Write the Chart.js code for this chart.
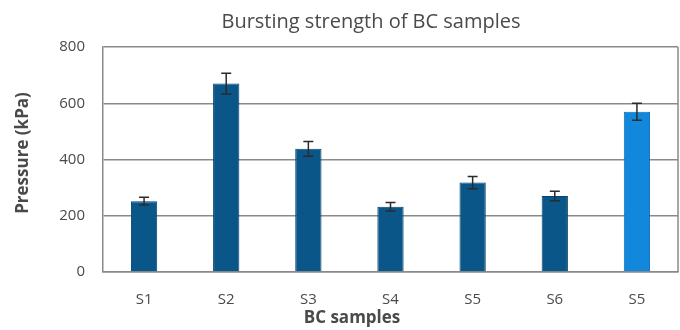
<!DOCTYPE html>
<html>
<head>
<meta charset="utf-8">
<script src="https://cdn.jsdelivr.net/npm/chart.js@4.4.1/dist/chart.umd.min.js"></script>
<style>
  html, body { margin: 0; padding: 0; background: #fff; }
  #wrap { width: 680px; height: 330px; }
</style>
</head>
<body>
<div id="wrap"><canvas id="chartBurst" width="680" height="330"></canvas></div>
<script>
const muestras = ['S1', 'S2', 'S3', 'S4', 'S5', 'S6', 'S5'];
const presion = [252, 670, 438, 232, 318, 270, 570];
const errores = [14, 37, 26, 15, 22, 17, 30];
const yTicks = [0, 200, 400, 600, 800];

const colorOscuro = '#0b5688';
const colorClaro = '#1288dc';
const colores = muestras.map((m, i) => i === muestras.length - 1 ? colorClaro : colorOscuro);
const bordes = muestras.map((m, i) => i === muestras.length - 1 ? '#0a6cb4' : '#074470');

const fuente = "'Open Sans', 'DejaVu Sans', sans-serif";
const gris = '#4a4a4a';

// error bars and titles drawn on top of the bars
const extras = {
    id: 'extras',
    afterDatasetsDraw(chart) {
        const { ctx, chartArea, scales } = chart;
        const meta = chart.getDatasetMeta(0);
        ctx.save();
        ctx.strokeStyle = '#2b2b2b';
        ctx.lineWidth = 1.5;
        meta.data.forEach((bar, i) => {
            const yTop = scales.y.getPixelForValue(presion[i] + errores[i]);
            const yBot = scales.y.getPixelForValue(presion[i] - errores[i]);
            ctx.beginPath();
            ctx.moveTo(bar.x, yTop);
            ctx.lineTo(bar.x, yBot);
            ctx.moveTo(bar.x - 5, yTop);
            ctx.lineTo(bar.x + 5, yTop);
            ctx.moveTo(bar.x - 5, yBot);
            ctx.lineTo(bar.x + 5, yBot);
            ctx.stroke();
        });

        // right edge of the plot frame
        ctx.strokeStyle = '#8a8a8a';
        ctx.lineWidth = 1.5;
        ctx.beginPath();
        ctx.moveTo(chartArea.right, chartArea.top);
        ctx.lineTo(chartArea.right, chartArea.bottom);
        ctx.stroke();

        ctx.fillStyle = gris;
        ctx.textAlign = 'center';
        ctx.textBaseline = 'middle';
        ctx.font = `20px ${fuente}`;
        ctx.fillText('Bursting strength of BC samples', 371, 22);

        ctx.font = `bold 17px ${fuente}`;
        ctx.fillText('BC samples', 352, 318);

        ctx.translate(23, 153);
        ctx.rotate(-Math.PI / 2);
        ctx.fillText('Pressure (kPa)', 0, 0);
        ctx.restore();
    }
};

const data = {
    labels: muestras,
    datasets: [{
        label: 'Pressure',
        data: presion,
        backgroundColor: colores,
        borderColor: bordes,
        borderWidth: 1,
        barPercentage: 0.32,
        categoryPercentage: 1
    }]
};

new Chart(document.getElementById('chartBurst'), {
    type: 'bar',
    data: data,
    plugins: [extras],
    options: {
        responsive: false,
        animation: false,
        layout: { padding: { top: 47, right: 2, left: 0, bottom: 0 } },
        plugins: {
            legend: { display: false },
            tooltip: { enabled: false }
        },
        scales: {
            x: {
                afterFit: s => { s.height = 58; },
                grid: { display: false, drawTicks: false },
                border: { display: true, color: '#8a8a8a', width: 1.5 },
                ticks: { padding: 19, color: gris, font: { family: fuente, size: 15 } }
            },
            y: {
                min: 0,
                max: 800,
                afterFit: s => { s.width = 103; },
                afterBuildTicks: s => { s.ticks = yTicks.map(v => ({ value: v })); },
                grid: { color: '#8a8a8a', lineWidth: 1.5, drawTicks: false },
                border: { display: true, color: '#8a8a8a', width: 1.5 },
                ticks: { padding: 18, color: gris, font: { family: fuente, size: 15 } }
            }
        }
    }
});
</script>
</body>
</html>
